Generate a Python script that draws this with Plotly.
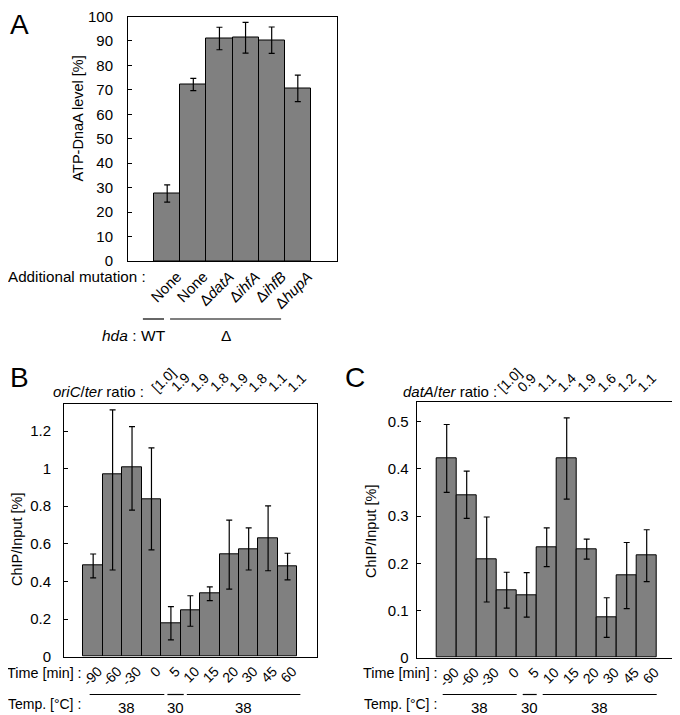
import plotly.graph_objects as go

# ---------------- data ----------------
a_labels = ["None", "None", "Δ<i>datA</i>", "Δ<i>ihfA</i>", "Δ<i>ihfB</i>", "Δ<i>hupA</i>"]
a_values = [27.6, 72.2, 91.0, 91.3, 90.3, 70.6]
a_errors = [3.5, 2.5, 4.6, 6.3, 5.4, 5.4]
hda_groups = [("WT", 0, 0), ("Δ", 1, 5)]

time_labels = ["-90", "-60", "-30", "0", "5", "10", "15", "20", "30", "45", "60"]
temp_groups = [("38", 0, 3), ("30", 4, 4), ("38", 5, 10)]

b_values = [0.484, 0.970, 1.005, 0.839, 0.178, 0.245, 0.335, 0.543, 0.573, 0.628, 0.479]
b_err_plus = [0.062, 0.342, 0.218, 0.271, 0.088, 0.079, 0.036, 0.183, 0.112, 0.174, 0.071]
b_err_minus = [0.065, 0.509, 0.226, 0.271, 0.089, 0.083, 0.037, 0.184, 0.112, 0.171, 0.071]
b_ratios = ["[1.0]", "1.9", "1.9", "1.8", "1.9", "1.8", "1.1", "1.1"]

c_values = [0.422, 0.345, 0.208, 0.143, 0.133, 0.234, 0.422, 0.230, 0.085, 0.174, 0.216]
c_errors = [0.072, 0.050, 0.090, 0.038, 0.047, 0.041, 0.086, 0.021, 0.042, 0.070, 0.055]
c_ratios = ["[1.0]", "0.9", "1.1", "1.4", "1.9", "1.6", "1.2", "1.1"]
ratio_start = time_labels.index("0")

# ---------------- layout helpers ----------------
# The page body has an 8px default margin, so the figure is sized to fill
# the rest of the 680x715 window and positions are given in window pixels.
OFF = 8
W, H = 680 - OFF, 715 - OFF
FONT = "Liberation Sans, Arial, Helvetica, sans-serif"
BAR = "#808080"


def px(x):
    return (x - OFF) / W


def py(y):
    return 1 - (y - OFF) / H


fig = go.Figure()


def add_bars(xa, ya, vals, plus, minus):
    fig.add_trace(go.Bar(
        x=list(range(len(vals))), y=vals, width=1,
        marker=dict(color=BAR, line=dict(color="black", width=1)),
        error_y=dict(type="data", array=plus, arrayminus=minus, symmetric=False,
                     color="black", thickness=1.2, width=3),
        xaxis=xa, yaxis=ya, showlegend=False, hoverinfo="skip"))


add_bars("x", "y", a_values, a_errors, a_errors)
add_bars("x2", "y2", b_values, b_err_plus, b_err_minus)
add_bars("x3", "y3", c_values, c_errors, c_errors)


def xax(size, shift, **kw):
    d = dict(showline=True, linecolor="black", linewidth=1, mirror=True,
             showgrid=False, zeroline=False, ticks="", tickangle=-45,
             automargin=False, ticklabelshift=shift,
             tickfont=dict(family=FONT, size=size, color="black"))
    d.update(kw)
    return d


def yax(standoff, **kw):
    d = dict(showline=True, linecolor="black", linewidth=1, mirror=True,
             showgrid=False, zeroline=False, ticks="inside", ticklen=4,
             tickcolor="black", ticklabelstandoff=standoff, automargin=False,
             ticklabeloverflow="allow",
             tickfont=dict(family=FONT, size=15, color="black"))
    d.update(kw)
    return d


fig.update_layout(
    template="none",
    width=W, height=H, margin=dict(l=0, r=0, t=0, b=0, pad=0, autoexpand=False),
    paper_bgcolor="white", plot_bgcolor="white", bargap=0, showlegend=False,
    font=dict(family=FONT, color="black"),
    xaxis=xax(15, 10, domain=[px(128), px(337)], range=[-1.5, 6.5],
              tickvals=list(range(len(a_labels))), ticktext=a_labels, anchor="y"),
    yaxis=yax(11, domain=[py(261), py(16.5)], range=[0, 100], dtick=10, anchor="x"),
    xaxis2=xax(14, 5, domain=[px(64), px(316.7)], range=[-1.5, 11.5],
               tickvals=list(range(len(time_labels))), ticktext=time_labels, anchor="y2"),
    yaxis2=yax(9, domain=[py(656.7), py(404.3)], range=[0, 1.342],
               tick0=0, dtick=0.2, anchor="x2"),
    xaxis3=xax(14, 8, domain=[px(416.7), px(674.3)], range=[-1.5, 11.38],
               tickvals=list(range(len(time_labels))), ticktext=time_labels, anchor="y3"),
    yaxis3=yax(4, domain=[py(657.7), py(402.3)], range=[0, 0.541],
               tick0=0, dtick=0.1, anchor="x3"),
)

ann = []
shapes = []


def text(x, y, s, size=15, xanchor="center", yanchor="middle", angle=0, xref="paper"):
    ann.append(dict(x=x, y=y, xref=xref, yref="paper", text=s, showarrow=False,
                    xanchor=xanchor, yanchor=yanchor, textangle=angle,
                    font=dict(family=FONT, size=size, color="black")))


# Panel letters
text(px(8), py(24), "A", size=28, xanchor="left")
text(px(8), py(377), "B", size=28, xanchor="left")
text(px(343), py(377), "C", size=28, xanchor="left")

# Panel A texts
text(px(77.5), py(119), "ATP-DnaA level [%]", size=14.5, angle=-90)
text(px(148), py(277), "Additional mutation :", size=15.2, xanchor="right")
hda_ext = {"WT": (-0.93, -0.12), "Δ": (0.11, 4.36)}
for name, s, e in hda_groups:
    x0, x1 = hda_ext[name]
    shapes.append(dict(type="line", xref="x", yref="paper", x0=x0, x1=x1,
                       y0=py(319), y1=py(319), line=dict(color="black", width=1.2)))
    text((x0 + x1) / 2, py(335), name, size=15.5, xref="x")
text(px(139), py(335), "<i>hda</i> :", size=15.5, xanchor="right")

# Panels B and C
for xa, left_right, ratios, ratio_off, ratio_lbl, lbl_x, ytitle_x, ytitle_y, line_off in [
    ("x2", 84, b_ratios, -0.3, "<i>oriC</i>/<i>ter</i> ratio :", 146, 17, 539, (-0.18, 0.66)),
    ("x3", 440, c_ratios, -0.75, "<i>datA</i>/<i>ter</i> ratio :", 499, 371, 531, (-0.2, 0.5)),
]:
    text(px(ytitle_x), py(ytitle_y), "ChIP/Input [%]", size=14.5, angle=-90)
    text(px(lbl_x), py(391), ratio_lbl, size=15, xanchor="right")
    for k, r in enumerate(ratios):
        text(ratio_start + k + ratio_off, py(398), r, size=14, xanchor="left",
             yanchor="bottom", angle=-45, xref=xa)
    text(px(left_right), py(673), "Time [min] :", size=14.4, xanchor="right")
    text(px(left_right - 1), py(704), "Temp. [°C] :", size=14, xanchor="right")
    for name, s, e in temp_groups:
        x0, x1 = s + line_off[0], e + line_off[1]
        shapes.append(dict(type="line", xref=xa, yref="paper", x0=x0, x1=x1,
                           y0=py(694.5), y1=py(694.5), line=dict(color="black", width=1.2)))
        text((x0 + x1) / 2, py(707), name, size=15, xref=xa)

fig.update_layout(annotations=ann, shapes=shapes)
fig.write_html("out.html")
